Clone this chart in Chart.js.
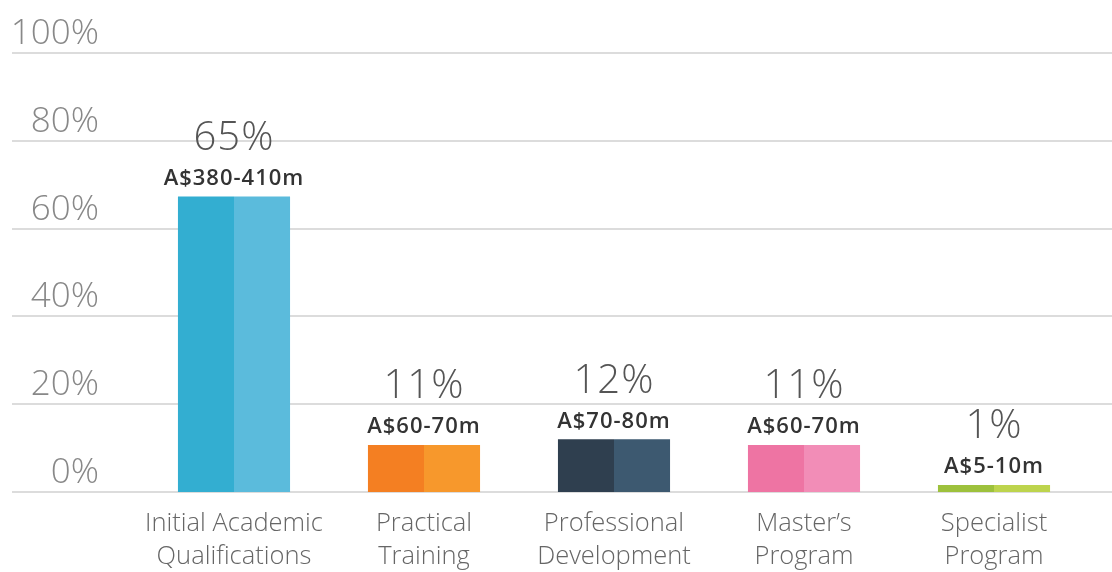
<!DOCTYPE html>
<html>
<head>
<meta charset="utf-8">
<script src="https://cdn.jsdelivr.net/npm/chart.js@4"></script>
<style>
  body { margin: 0; background: #fff; }
  #wrap { width: 1112px; height: 572px; }
</style>
</head>
<body>
<div id="wrap"><canvas id="myChart"></canvas></div>
<script>
// datos del gráfico
const categorias = [
    ["Initial Academic", "Qualifications"],
    ["Practical", "Training"],
    ["Professional", "Development"],
    ["Master’s", "Program"],
    ["Specialist", "Program"]
];
const alturas = [67.3, 10.7, 12, 10.7, 1.6];
const porcentajes = ["65%", "11%", "12%", "11%", "1%"];
const montos = ["A$380-410m", "A$60-70m", "A$70-80m", "A$60-70m", "A$5-10m"];
const ticksY = [0, 20, 40, 60, 80, 100];

const coloresIzq = ["#33aed1", "#f47f22", "#2f3f4f", "#ee74a3", "#9dc13c"];
const coloresDer = ["#5bbbdc", "#f7982c", "#3d5970", "#f28db7", "#bdd44d"];

// líneas de fondo a todo el ancho
const lineasFondo = {
    id: "lineasFondo",
    beforeDatasetsDraw(chart) {
        const ctx = chart.ctx;
        const y = chart.scales.y;
        ctx.save();
        ctx.strokeStyle = "#dcdcdc";
        ctx.lineWidth = 2;
        ticksY.forEach(v => {
            const py = Math.round(y.getPixelForValue(v));
            ctx.beginPath();
            ctx.moveTo(12, py);
            ctx.lineTo(chart.width, py);
            ctx.stroke();
        });
        ctx.restore();
    }
};

// etiquetas sobre cada barra
const etiquetas = {
    id: "etiquetas",
    afterDatasetsDraw(chart) {
        const ctx = chart.ctx;
        const izq = chart.getDatasetMeta(0).data;
        const der = chart.getDatasetMeta(1).data;
        ctx.save();
        ctx.textAlign = "center";
        ctx.textBaseline = "middle";
        izq.forEach((bar, i) => {
            const x = (bar.x + der[i].x) / 2;
            const top = Math.min(bar.y, der[i].y);
            ctx.fillStyle = "#333";
            ctx.font = "600 22px 'Open Sans'";
            ctx.letterSpacing = "1px";
            ctx.fillText(montos[i], x, top - 18);
            ctx.fillStyle = "#555";
            ctx.letterSpacing = "1px";
            ctx.font = "300 40px 'Open Sans'";
            ctx.fillText(porcentajes[i], x, top - 58);
        });
        ctx.restore();
    }
};

const ctx = document.getElementById("myChart").getContext("2d");
const myChart = new Chart(ctx, {
    type: "bar",
    data: {
        labels: categorias,
        datasets: [
            { data: alturas, backgroundColor: coloresIzq },
            { data: alturas, backgroundColor: coloresDer }
        ]
    },
    options: {
        responsive: true,
        maintainAspectRatio: false,
        animation: false,
        categoryPercentage: 0.59,
        barPercentage: 1.0,
        layout: { padding: { top: 31, right: 23, left: 0, bottom: 0 } },
        plugins: { legend: { display: false }, tooltip: { enabled: false } },
        scales: {
            x: {
                grid: { display: false },
                border: { display: false },
                afterFit(scale) { scale.height = 80; },
                ticks: {
                    color: "#666",
                    padding: 7,
                    maxRotation: 0,
                    font: { family: "'Open Sans'", size: 25.5, weight: 300, lineHeight: 1.3 }
                }
            },
            y: {
                min: 0,
                max: 100,
                grid: { display: false },
                border: { display: false },
                afterFit(scale) { scale.width = 139; },
                ticks: {
                    stepSize: 20,
                    padding: 32,
                    labelOffset: -19,
                    color: "#888",
                    font: { family: "'Open Sans'", size: 35, weight: 300 },
                    callback: v => v + "%"
                }
            }
        }
    },
    plugins: [lineasFondo, etiquetas]
});
</script>
</body>
</html>
